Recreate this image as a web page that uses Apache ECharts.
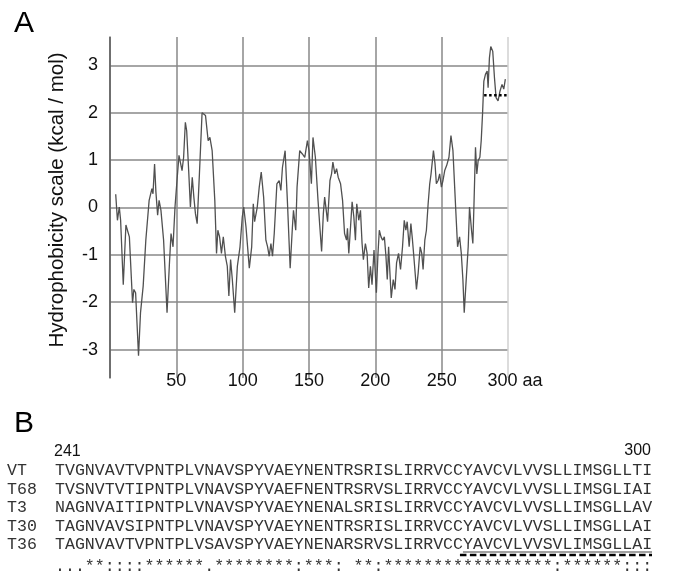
<!DOCTYPE html>
<html>
<head>
<meta charset="utf-8">
<script src="https://cdn.jsdelivr.net/npm/echarts@6/dist/echarts.min.js"></script>
<style>
  html, body { margin: 0; padding: 0; background: #fff; }
  #chart { width: 681px; height: 577px; }
</style>
</head>
<body>
<div id="chart"></div>
<script>
// --- panel A: hydrophobicity profile (residue, kcal/mol) ---
const residues = [
  4.3, 5.6, 7, 8, 10, 12, 14.6, 17, 18, 19.3, 21.5, 23, 25, 27, 28.5, 29.5, 31.6, 32.4, 33.6, 34.6,
  35.9, 37, 38.4, 40.4, 43, 44.7, 46, 47.5, 49, 50.5, 52, 54.3, 55.5, 56.8, 57.8, 59.3, 60.6, 62, 63.2, 64.4,
  65.7, 67.4, 69.4, 72, 74, 75.3, 77, 79, 80.3, 81.3, 82.6, 84, 85.4, 87, 88.4, 89.6, 90.9, 92.2, 94, 96,
  98, 99.7, 100.8, 102.5, 105, 106.8, 108, 109, 111, 112.5, 114, 115.8, 117.5, 118.8, 120, 121.3, 122.5, 123.8, 125.8, 127.5,
  128.8, 130, 132, 133.8, 135.8, 137.5, 138.3, 140, 141, 143, 145, 146.8, 148.8, 150, 151.8, 153, 154.8, 156.8, 158, 159.5,
  160.8, 161.8, 163, 164, 165.8, 167, 168, 169.5, 170.8, 172, 173.8, 175.3, 176.8, 178.3, 179, 180, 181.3, 182.5, 183.8, 185,
  186, 187.5, 188.8, 190, 191, 192.5, 193.8, 195, 196.3, 197.5, 199, 200.8, 202, 203, 204.3, 205.5, 206.8, 208, 209, 210,
  211, 212, 213.5, 214.8, 216, 217.5, 219, 220.5, 221.8, 223, 224, 225.5, 226.8, 228, 229, 231, 232.3, 233.8, 235, 236,
  237.3, 238.5, 239.8, 241, 242, 243.8, 245, 246, 247.3, 248.5, 249.8, 251, 252.3, 253.8, 255.5, 257, 258.5, 259.8, 261, 262,
  263.5, 264.8, 266, 267, 268.8, 270, 271, 272.5, 273.5, 274.3, 275.5, 276.5, 277.5, 278.8, 279.8, 280.8, 281.8, 283, 284.3, 285,
  286, 287, 288.5, 289.8, 291, 292.5, 294, 295.5, 296.8, 298
];
const hydropathy = [
  0.28, -0.27, 0.01, -0.27, -1.63, -0.37, -0.62, -2.01, -1.73, -1.80, -3.13, -2.22, -1.66, -0.69, -0.65, 0.15, 0.40, 0.29, 0.92, 0.33,
  -0.16, 0.15, -0.06, -0.69, -2.22, -1.24, -0.55, -0.83, 0.01, 0.57, 1.10, 0.78, 1.06, 1.80, 1.62, 0.78, 0.01, 0.64, 0.22, -0.13,
  -0.34, 0.71, 2.00, 1.94, 1.41, 1.48, 1.20, 0.15, -0.97, -0.48, -0.62, -0.97, -0.62, -1.03, -1.24, -1.87, -1.10, -1.52, -2.22, -1.24,
  -0.83, -0.20, 0.01, -0.41, -1.28, -0.83, 0.08, -0.30, 0.01, 0.43, 0.75, 0.22, -0.69, -0.83, -1.03, -0.76, -1.03, -0.55, 0.50, 0.57,
  0.36, 0.85, 1.20, 0.08, -1.28, -0.41, -0.06, -0.48, 0.43, 1.20, 1.13, 1.06, 1.41, 1.20, 0.50, 1.48, 1.06, 0.15, -0.34, -0.93,
  -0.13, 0.22, -0.06, -0.30, 0.57, 0.71, 0.96, 0.71, 0.82, 0.64, 0.50, 0.15, -0.55, -0.69, -0.44, -0.97, -0.41, 0.12, -0.20, -0.69,
  0.08, -0.27, -0.06, -0.76, -1.10, -0.76, -0.97, -1.70, -1.24, -1.63, -0.90, -1.80, -0.97, -0.48, -0.62, -0.69, -0.62, -1.03, -1.52, -0.83,
  -1.38, -1.91, -1.52, -1.73, -1.17, -0.97, -1.31, -0.83, -0.27, -0.48, -0.30, -0.83, -0.34, -0.69, -1.03, -1.73, -1.38, -0.83, -0.97, -1.31,
  -0.69, -0.48, 0.08, 0.50, 0.71, 1.20, 0.92, 0.50, 0.57, 0.71, 0.43, 0.57, 0.78, 0.89, 1.06, 1.52, 1.20, 0.43, -0.27, -0.83,
  -0.62, -0.97, -1.52, -2.22, -1.38, -0.83, 0.01, -0.48, -0.76, 0.01, 1.27, 0.71, 0.99, 1.06, 1.41, 1.97, 2.67, 2.81, 2.88, 2.53,
  3.16, 3.40, 3.30, 2.74, 2.32, 2.25, 2.46, 2.60, 2.50, 2.71
];
// dotted threshold segment near the C terminus
const markX = [282, 299];
const markY = [2.37, 2.37];
const yTicks = [-3, -2, -1, 0, 1, 2, 3];

// --- panel B: alignment of residues 241-300 ---
const seqNames = ['VT', 'T68', 'T3', 'T30', 'T36'];
const seqRows = [
  'TVGNVAVTVPNTPLVNAVSPYVAEYNENTRSRISLIRRVCCYAVCVLVVSLLIMSGLLTI',
  'TVSNVTVTIPNTPLVNAVSPYVAEFNENTRSRVSLIRRVCCYAVCVLVVSLLIMSGLIAI',
  'NAGNVAITIPNTPLVNAVSPYVAEYNENALSRISLIRRVCCYAVCVLVVSLLIMSGLLAV',
  'TAGNVAVSIPNTPLVNAVSPYVAEYNENTRSRISLIRRVCCYAVCVLVVSLLIMSGLLAI',
  'TAGNVAVTVPNTPLVSAVSPYVAEYNENARSRVSLIRRVCCYAVCVLVVSVLIMSGLLAI'
];
const consensus = '...**::::******.********:***: **:*****************:******:::';
const rangeLabels = ['241', '300'];
const underlineCols = [42, 60]; // underlined stretch in T36

const chart = echarts.init(document.getElementById('chart'));

const sans = 'Liberation Sans, Arial, sans-serif';
const mono = 'Liberation Mono, Courier New, monospace';
const seqLeft = 55;
const charW = 9.95;
const rowTop = 471;
const rowStep = 18.5;
const monoScale = charW / (16 * 0.6);

const graphics = [
  { type: 'text', left: 14, top: 9, style: { text: 'A', font: '30px ' + sans, fill: '#000' } },
  { type: 'text', left: 14, top: 409, style: { text: 'B', font: '30px ' + sans, fill: '#000' } },
  {
    type: 'text', x: 57, y: 200, rotation: Math.PI / 2,
    style: { text: 'Hydrophobicity scale (kcal / mol)', font: '20.5px ' + sans, fill: '#111', align: 'center', verticalAlign: 'middle' }
  },
  { type: 'text', x: seqLeft - 1, y: 452, style: { text: rangeLabels[0], font: '16px ' + sans, fill: '#111', verticalAlign: 'middle' } },
  { type: 'text', x: seqLeft + 60 * charW - 1, y: 451, style: { text: rangeLabels[1], font: '16px ' + sans, fill: '#111', align: 'right', verticalAlign: 'middle' } }
];

seqNames.forEach((name, i) => {
  const y = rowTop + i * rowStep;
  graphics.push({ type: 'text', x: 7, y: y, scaleX: monoScale, style: { text: name, font: '16px ' + mono, fill: '#333', verticalAlign: 'middle' } });
  graphics.push({ type: 'text', x: seqLeft, y: y, scaleX: monoScale, style: { text: seqRows[i], font: '16px ' + mono, fill: '#333', verticalAlign: 'middle' } });
});
graphics.push({ type: 'text', x: seqLeft, y: rowTop + 5 * rowStep + 3, scaleX: monoScale, style: { text: consensus, font: '16px ' + mono, fill: '#333', verticalAlign: 'middle' } });

// underline + dashed bar below T36
const ux1 = seqLeft + (underlineCols[0] - 1) * charW;
const ux2 = seqLeft + underlineCols[1] * charW;
const uy = rowTop + 4 * rowStep;
graphics.push({ type: 'line', shape: { x1: ux1, y1: uy + 7, x2: ux2, y2: uy + 7 }, style: { stroke: '#444', lineWidth: 1 } });
graphics.push({ type: 'line', shape: { x1: ux1 - 3, y1: uy + 10, x2: ux2, y2: uy + 10 }, style: { stroke: '#000', lineWidth: 2.5, lineDash: [6.5, 3.45] } });

const option = {
  animation: false,
  backgroundColor: '#fff',
  grid: { left: 110, top: 37, width: 398, height: 341, containLabel: false },
  xAxis: {
    type: 'value',
    min: 0,
    max: 300,
    interval: 50,
    axisLine: { show: false },
    axisTick: { show: false },
    axisLabel: {
      margin: 3,
      verticalAlign: 'middle',
      color: '#111',
      fontFamily: sans,
      fontSize: 18,
      formatter: v => v === 0 ? '' : (v === 300 ? '{aa|300 aa}' : String(v)),
      rich: { aa: { fontFamily: sans, fontSize: 18, color: '#111', padding: [0, 0, 0, 14] } }
    },
    splitLine: {
      show: true,
      lineStyle: { color: ['#666', '#888', '#888', '#888', '#888', '#888', '#d0d0d0'], width: 1.5 }
    }
  },
  yAxis: {
    type: 'value',
    min: -3.6,
    max: 3.6,
    axisLine: { show: true, lineStyle: { color: '#666', width: 1.5 } },
    axisTick: { show: false, customValues: yTicks },
    axisLabel: { customValues: yTicks, margin: 12, color: '#111', fontFamily: sans, fontSize: 18 },
    splitLine: { show: true, lineStyle: { color: '#888', width: 1.5 } }
  },
  series: [
    {
      type: 'line',
      data: residues.map((r, i) => [r, hydropathy[i]]),
      showSymbol: false,
      silent: true,
      lineStyle: { color: '#505050', width: 1.3 }
    },
    {
      type: 'line',
      data: markX.map((x, i) => [x, markY[i]]),
      showSymbol: false,
      silent: true,
      lineStyle: { color: '#000', width: 2.5, type: [2.5, 2.5] }
    }
  ],
  graphic: graphics
};

chart.setOption(option);
</script>
</body>
</html>
